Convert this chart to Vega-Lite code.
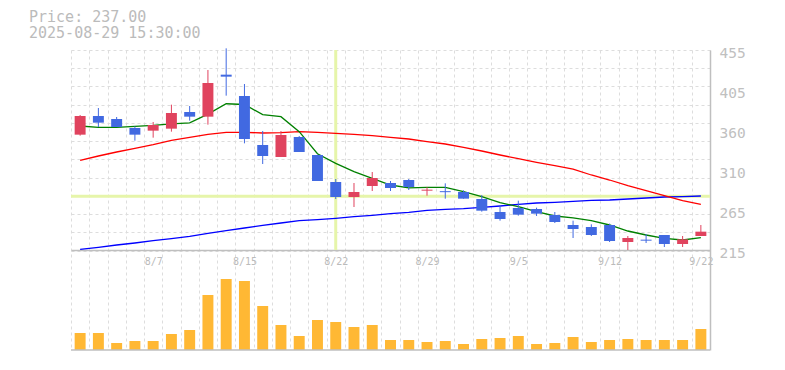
{
  "$schema": "https://vega.github.io/schema/vega-lite/v6.json",
  "width": 639,
  "height": 300,
  "autosize": {"type": "none"},
  "padding": {"left": 71, "top": 50, "right": 75, "bottom": 20},
  "background": "white",
  "title": {
    "text": "Price: 237.00",
    "subtitle": "2025-08-29 15:30:00",
    "anchor": "start",
    "frame": "group",
    "dx": -42,
    "offset": 4,
    "font": "DejaVu Sans Mono",
    "fontSize": 15,
    "fontWeight": "normal",
    "color": "#bbbbbb",
    "subtitleFont": "DejaVu Sans Mono",
    "subtitleFontSize": 15,
    "subtitleColor": "#bbbbbb",
    "subtitlePadding": 1
  },
  "datasets": {
    "px": [
      {"d": "8/1", "o": 353.4, "h": 377, "l": 352.2, "c": 375.8, "v": 170, "g": 363.8, "r": 322.6, "b": 215.8},
      {"d": "8/4", "o": 375.8, "h": 385.4, "l": 362.6, "c": 367.8, "v": 170, "g": 362.2, "r": 327.8, "b": 218.2},
      {"d": "8/5", "o": 372.2, "h": 374.6, "l": 362.6, "c": 362.6, "v": 70, "g": 362.2, "r": 332.6, "b": 221},
      {"d": "8/6", "o": 361.4, "h": 363.4, "l": 346.2, "c": 353.4, "v": 90, "g": 363.4, "r": 337, "b": 223.4},
      {"d": "8/7", "o": 358.2, "h": 368.6, "l": 349.8, "c": 365, "v": 90, "g": 364.6, "r": 341.4, "b": 226.2},
      {"d": "8/8", "o": 360.6, "h": 389.4, "l": 357, "c": 379.4, "v": 160, "g": 366.4, "r": 346.6, "b": 228.6},
      {"d": "8/12", "o": 380.6, "h": 387.8, "l": 370.2, "c": 375, "v": 200, "g": 367.6, "r": 350.2, "b": 231.4},
      {"d": "8/13", "o": 375, "h": 431, "l": 365.4, "c": 415.4, "v": 550, "g": 378, "r": 353.8, "b": 235},
      {"d": "8/14", "o": 425.4, "h": 457, "l": 400.2, "c": 423, "v": 710, "g": 390.5, "r": 356.2, "b": 238.2},
      {"d": "8/15", "o": 399.8, "h": 414.2, "l": 343, "c": 348.2, "v": 690, "g": 389.6, "r": 356.2, "b": 241.4},
      {"d": "8/18", "o": 341, "h": 357.8, "l": 318.2, "c": 327.8, "v": 440, "g": 377.5, "r": 355.4, "b": 244.6},
      {"d": "8/19", "o": 326.6, "h": 357.8, "l": 326.6, "c": 353, "v": 250, "g": 375, "r": 355.8, "b": 247.4},
      {"d": "8/20", "o": 350.6, "h": 351.8, "l": 332.6, "c": 332.6, "v": 140, "g": 357, "r": 357, "b": 250.2},
      {"d": "8/21", "o": 329, "h": 329.4, "l": 297.8, "c": 297.8, "v": 300, "g": 330.5, "r": 356.2, "b": 251.4},
      {"d": "8/22", "o": 296.6, "h": 300.2, "l": 276.2, "c": 278.6, "v": 280, "g": 319, "r": 355, "b": 253},
      {"d": "8/25", "o": 278.6, "h": 295.4, "l": 266.6, "c": 284.6, "v": 230, "g": 309, "r": 353.8, "b": 255},
      {"d": "8/26", "o": 291.8, "h": 308.6, "l": 285.8, "c": 301.4, "v": 250, "g": 301, "r": 352.2, "b": 256.6},
      {"d": "8/27", "o": 295.4, "h": 297.8, "l": 285.8, "c": 289.4, "v": 100, "g": 293, "r": 350.2, "b": 258.6},
      {"d": "8/28", "o": 299, "h": 300.2, "l": 287, "c": 290.6, "v": 100, "g": 289.5, "r": 348.2, "b": 260.2},
      {"d": "8/29", "o": 286.2, "h": 290.2, "l": 280.2, "c": 287.4, "v": 80, "g": 290.2, "r": 345, "b": 262.6},
      {"d": "9/1", "o": 285.6, "h": 295, "l": 276.6, "c": 284.4, "v": 90, "g": 290.2, "r": 342.2, "b": 263.8},
      {"d": "9/2", "o": 284.6, "h": 286.6, "l": 276.6, "c": 276.6, "v": 60, "g": 285, "r": 338.2, "b": 264.6},
      {"d": "9/3", "o": 276.2, "h": 281, "l": 261, "c": 262.2, "v": 110, "g": 279, "r": 333.8, "b": 266.2},
      {"d": "9/4", "o": 260.6, "h": 269, "l": 250.2, "c": 252.2, "v": 120, "g": 271.8, "r": 329, "b": 267.8},
      {"d": "9/5", "o": 265.4, "h": 274.2, "l": 256.2, "c": 257.4, "v": 140, "g": 267, "r": 324.6, "b": 269.8},
      {"d": "9/8", "o": 264.2, "h": 265.8, "l": 255.8, "c": 258.6, "v": 60, "g": 261, "r": 320.2, "b": 271.4},
      {"d": "9/9", "o": 257, "h": 260.6, "l": 247.4, "c": 248.6, "v": 70, "g": 255.8, "r": 316.2, "b": 272.2},
      {"d": "9/10", "o": 245, "h": 250.2, "l": 229.4, "c": 240.2, "v": 130, "g": 253.6, "r": 312, "b": 273.4},
      {"d": "9/11", "o": 242.6, "h": 245.8, "l": 231.8, "c": 233, "v": 80, "g": 250.2, "r": 305, "b": 274.6},
      {"d": "9/12", "o": 245, "h": 246.6, "l": 224.6, "c": 225.8, "v": 100, "g": 245, "r": 299, "b": 275},
      {"d": "9/16", "o": 224.6, "h": 231.8, "l": 215, "c": 229.4, "v": 110, "g": 237.8, "r": 292.2, "b": 276.2},
      {"d": "9/17", "o": 227.4, "h": 234.2, "l": 223.4, "c": 226.2, "v": 100, "g": 233, "r": 286.2, "b": 277.4},
      {"d": "9/18", "o": 233, "h": 233, "l": 218.6, "c": 222.2, "v": 100, "g": 229, "r": 280.2, "b": 278.6},
      {"d": "9/19", "o": 222.2, "h": 231.8, "l": 218.6, "c": 227.8, "v": 100, "g": 227, "r": 274.2, "b": 279},
      {"d": "9/22", "o": 231.8, "h": 245, "l": 231.8, "c": 237, "v": 210, "g": 229.8, "r": 269.8, "b": 279.8}
    ]
  },
  "layer": [
    {
      "layer": [
        {
          "data": {"name": "px"},
          "mark": {"type": "rule", "color": "#e6f5aa", "strokeWidth": 3},
          "encoding": {
            "x": {
              "field": "d", "type": "ordinal", "sort": null,
              "scale": {"type": "band", "paddingInner": 0, "paddingOuter": 0},
              "axis": {
                "orient": "bottom", "offset": -100, "tickBand": "extent", "title": null,
                "grid": true, "gridColor": "#dddddd", "gridDash": [3, 3], "gridWidth": 1,
                "ticks": false, "domain": true, "domainColor": "#bfbfbf", "domainWidth": 1.5,
                "labelExpr": "indexof(['8/7','8/15','8/22','8/29','9/5','9/12','9/22'], datum.value) >= 0 ? datum.value : ''",
                "labelAngle": 0, "labelFont": "DejaVu Sans Mono", "labelFontSize": 10, "labelColor": "#bbbbbb",
                "labelPadding": 6, "labelOverlap": false, "labelBound": false, "labelFlush": false
              }
            },
            "y": {"datum": 215, "type": "quantitative", "scale": {"domain": [95, 455], "nice": false, "zero": false}, "axis": null},
            "y2": {"datum": 455},
            "opacity": {"condition": {"test": "datum.d == '8/22'", "value": 1}, "value": 0}
          }
        },
        {
          "data": {"values": [{}]},
          "mark": {"type": "rule", "color": "#e6f5aa", "strokeWidth": 3},
          "encoding": {
            "y": {"datum": 279.4, "type": "quantitative", "scale": {"domain": [95, 455], "nice": false, "zero": false}, "axis": null}
          }
        },
        {
          "data": {"name": "px"},
          "mark": {"type": "line", "color": "#0000ff", "strokeWidth": 1.3},
          "encoding": {
            "x": {"field": "d", "type": "ordinal", "sort": null},
            "y": {
              "field": "b", "type": "quantitative",
              "scale": {"domain": [95, 455], "nice": false, "zero": false},
              "axis": {
                "orient": "right", "values": [455, 433.12, 411.24, 389.36, 367.48, 345.6, 323.72, 301.84, 279.96, 258.08, 236.2, 214.32],
                "grid": true, "gridColor": "#dddddd", "gridDash": [3, 3], "gridWidth": 1,
                "labels": false, "ticks": false, "domain": false, "title": null
              }
            }
          }
        },
        {
          "data": {"name": "px"},
          "mark": {"type": "line", "color": "#ff0000", "strokeWidth": 1.3},
          "encoding": {
            "x": {"field": "d", "type": "ordinal", "sort": null},
            "y": {"field": "r", "type": "quantitative", "scale": {"domain": [95, 455], "nice": false, "zero": false}, "axis": null}
          }
        },
        {
          "data": {"name": "px"},
          "mark": {"type": "line", "color": "#008000", "strokeWidth": 1.3},
          "encoding": {
            "x": {"field": "d", "type": "ordinal", "sort": null},
            "y": {"field": "g", "type": "quantitative", "scale": {"domain": [95, 455], "nice": false, "zero": false}, "axis": null}
          }
        },
        {
          "data": {"name": "px"},
          "mark": {"type": "rule", "strokeWidth": 1},
          "encoding": {
            "x": {"field": "d", "type": "ordinal", "sort": null},
            "y": {"field": "l", "type": "quantitative", "scale": {"domain": [95, 455], "nice": false, "zero": false}, "axis": null},
            "y2": {"field": "h"},
            "color": {"condition": {"test": "datum.c >= datum.o", "value": "#e0435e"}, "value": "#4169e1"}
          }
        },
        {
          "data": {"name": "px"},
          "mark": {"type": "bar", "width": {"band": 0.6}},
          "encoding": {
            "x": {"field": "d", "type": "ordinal", "sort": null},
            "y": {
              "field": "o", "type": "quantitative",
              "scale": {"domain": [95, 455], "nice": false, "zero": false},
              "axis": {
                "orient": "right", "values": [215, 263, 311, 359, 407, 455],
                "labelExpr": "format(round(datum.value / 5) * 5, 'd')",
                "grid": false, "ticks": false, "domain": true, "domainColor": "#bfbfbf", "domainWidth": 1.5,
                "labelFont": "DejaVu Sans Mono", "labelFontSize": 14.5, "labelColor": "#c0c0c0",
                "labelPadding": 9, "labelOffset": 3, "labelBaseline": "middle", "labelFlush": false, "title": null
              }
            },
            "y2": {"field": "c"},
            "color": {"condition": {"test": "datum.c >= datum.o", "value": "#e0435e"}, "value": "#4169e1"}
          }
        }
      ],
      "resolve": {"axis": {"y": "independent"}}
    },
    {
      "layer": [
        {
          "data": {"name": "px"},
          "mark": {"type": "bar", "width": {"band": 0.6}, "color": "#ffb834"},
          "encoding": {
            "x": {"field": "d", "type": "ordinal", "sort": null},
            "y": {"field": "v", "type": "quantitative", "scale": {"domain": [0, 3000], "nice": false}, "axis": null}
          }
        },
        {
          "data": {"values": [{}]},
          "mark": {"type": "rule", "color": "#bfbfbf", "strokeWidth": 1.5},
          "encoding": {
            "y": {"datum": 0, "type": "quantitative", "scale": {"domain": [0, 3000], "nice": false}, "axis": null}
          }
        }
      ]
    }
  ],
  "resolve": {"scale": {"y": "independent"}},
  "config": {"view": {"stroke": null}}
}
